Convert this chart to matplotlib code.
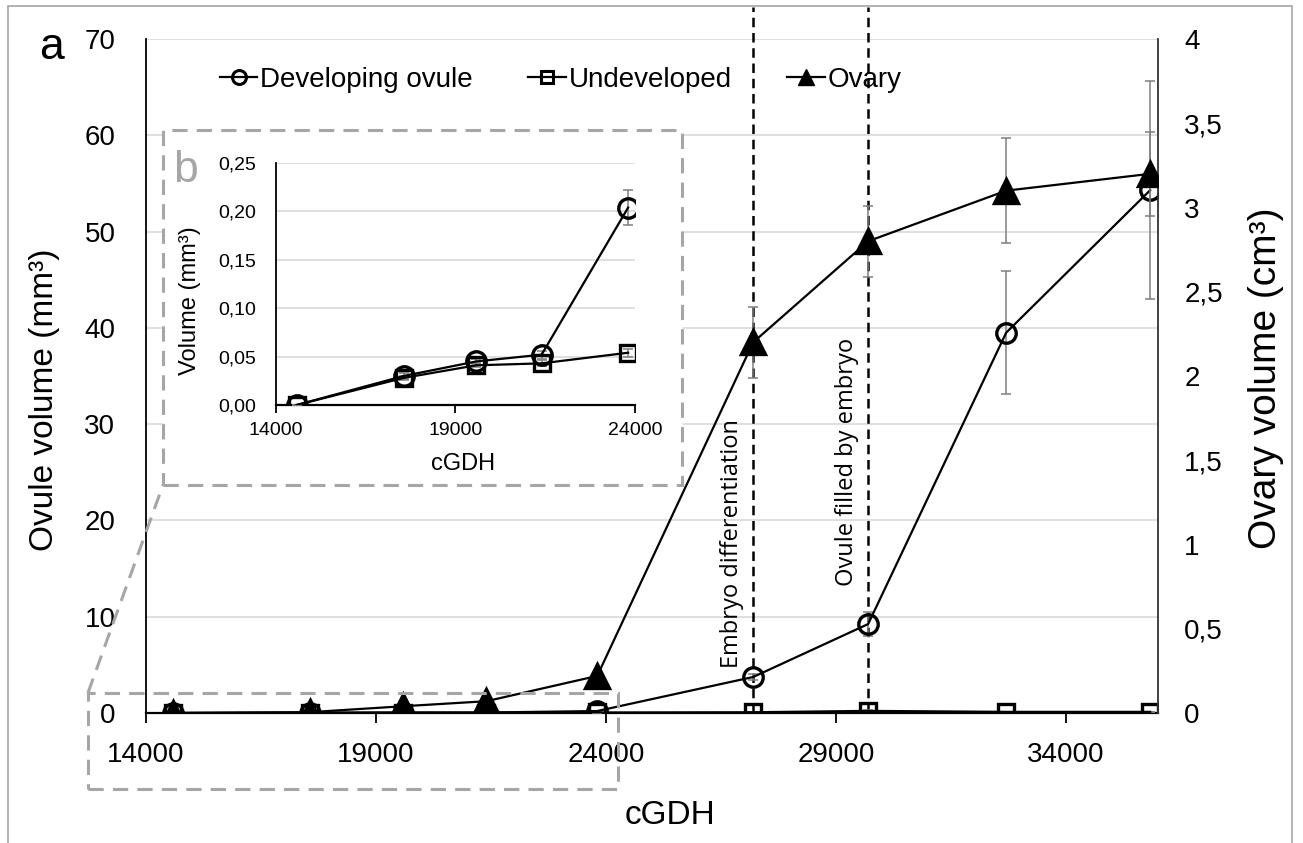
import matplotlib
matplotlib.use("Agg")
import matplotlib.pyplot as plt
from matplotlib.lines import Line2D
from matplotlib.patches import Rectangle
from matplotlib.ticker import FuncFormatter, MultipleLocator

plt.rcParams["font.family"] = ["Liberation Sans", "DejaVu Sans"]

# values
cgdh = [14580, 17560, 19580, 21400, 23810, 27200, 29700, 32700, 35830]
developing = [0.0, 0.030, 0.045, 0.052, 0.204, 3.74, 9.24, 39.5, 54.3]
developing_err = [0.0, 0.003, 0.003, 0.004, 0.018, 0.3, 1.2, 6.4, 11.3]
undeveloped = [0.0, 0.028, 0.041, 0.043, 0.054, 0.08, 0.22, 0.12, 0.12]
undeveloped_err = [0.0, 0.002, 0.002, 0.003, 0.004, 0.02, 0.05, 0.03, 0.03]
ovary = [0.0, 0.005, 0.04, 0.07, 0.22, 2.20, 2.80, 3.10, 3.20]
ovary_err = [0.0, 0.002, 0.005, 0.01, 0.02, 0.21, 0.21, 0.31, 0.25]
n_inset = 5

event_cgdh = [27200, 29700]
event_labels = ["Embryo differentiation", "Ovule filled by embryo"]
event_label_bottom = [4.7, 13.2]

ERR = "#7f7f7f"
DASH_GREY = "#a6a6a6"
GRID = "#d9d9d9"


def comma(fmt):
    return FuncFormatter(lambda v, _: format(v, fmt).replace(".", ","))


def draw_series(ax, x, y, err, marker, ms, filled=False):
    ax.errorbar(x, y, yerr=err, fmt="none", ecolor=ERR, elinewidth=1.1,
                capsize=3.5, capthick=1.1, zorder=3)
    ax.plot(x, y, color="black", lw=1.6, marker=marker, ms=ms, mew=2.4,
            mfc="black" if filled else "none", mec="black", zorder=4)


fig = plt.figure(figsize=(13.03, 8.43), dpi=100)
ax = fig.add_axes([0.112, 0.1542, 0.7767, 0.7995])
ax2 = ax.twinx()

draw_series(ax, cgdh, developing, developing_err, "o", 14)
draw_series(ax, cgdh, undeveloped, undeveloped_err, "s", 12)
draw_series(ax2, cgdh, ovary, ovary_err, "^", 17, filled=True)

ax.set_xlim(14000, 36000)
ax.set_ylim(0, 70)
ax2.set_ylim(0, 4)
ax.set_xticks(range(14000, 36000, 5000))
ax.yaxis.set_major_locator(MultipleLocator(10))
ax2.yaxis.set_major_locator(MultipleLocator(0.5))
ax2.yaxis.set_major_formatter(comma("g"))
ax.grid(axis="y", color=GRID, lw=1.2)
ax.set_axisbelow(True)

for a in (ax, ax2):
    for side in ("top", "left", "right"):
        a.spines[side].set_visible(False)
ax.spines["left"].set_visible(True)
ax.spines["left"].set_linewidth(1.3)
ax2.spines["right"].set_visible(True)
ax2.spines["right"].set_linewidth(1.3)
ax2.spines["right"].set_color("#333333")
ax.spines["bottom"].set_linewidth(1.6)
ax2.spines["bottom"].set_visible(False)

ax.tick_params(axis="x", direction="out", length=7, width=1.3, pad=14,
               labelsize=20)
ax.tick_params(axis="y", length=0, pad=22, labelsize=20)
ax2.tick_params(axis="y", length=0, pad=19, labelsize=20)

for x, label, bottom in zip(event_cgdh, event_labels, event_label_bottom):
    ax.axvline(x, ymin=0, ymax=1.0475, color="black", lw=1.8,
               linestyle=(0, (3.8, 2.3)), clip_on=False, zorder=2)
    ax.annotate(label, xy=(x, bottom), xytext=(-15, 0),
                textcoords="offset points", rotation=90, ha="center",
                va="bottom", fontsize=17, family=["Open Sans", "DejaVu Sans"])

fig.text(0.0345, 0.5255, "Ovule volume (mm³)", rotation=90, ha="center",
         va="center", fontsize=24)
fig.text(0.9716, 0.5516, "Ovary volume (cm³)", rotation=90, ha="center",
         va="center", fontsize=28)
fig.text(0.514, 0.0332, "cGDH", ha="center", va="center", fontsize=24)
fig.text(0.0399, 0.944, "a", ha="center", va="center", fontsize=32)

handles = [
    Line2D([], [], color="black", lw=1.6, marker="o", ms=10, mew=2.2, mfc="none"),
    Line2D([], [], color="black", lw=1.6, marker="s", ms=9, mew=2.2, mfc="none"),
    Line2D([], [], color="black", lw=1.6, marker="^", ms=12, mfc="black"),
]
ax2.legend(handles, ["Developing ovule", "Undeveloped", "Ovary"], ncol=3,
           loc="center left", bbox_to_anchor=(0.1688, 0.905),
           bbox_transform=fig.transFigure, frameon=False, fontsize=20,
           handlelength=1.35, handletextpad=0.1, columnspacing=2.0,
           borderpad=0, borderaxespad=0)

# figure frame, zoom window, connector and inset box
fig.patches.append(Rectangle((0.0061, -0.01), 0.9855, 1.0029, transform=fig.transFigure,
                             fill=False, edgecolor=DASH_GREY, lw=1.2, zorder=1))
fig.patches.append(Rectangle((0.0675, 0.064), 0.4068, 0.114, transform=fig.transFigure,
                             fill=False, edgecolor=DASH_GREY, lw=2.2,
                             linestyle=(0, (5, 3)), zorder=2))
fig.lines.append(Line2D([0.0675, 0.1251], [0.178, 0.4247], transform=fig.transFigure,
                        color=DASH_GREY, lw=2.2, linestyle=(0, (5, 3)), zorder=2))
fig.patches.append(Rectangle((0.1251, 0.4247), 0.3983, 0.4211, transform=fig.transFigure,
                             facecolor="white", edgecolor=DASH_GREY, lw=2.2,
                             linestyle=(0, (5, 3)), zorder=2))

inset = fig.add_axes([0.2118, 0.5196, 0.2755, 0.287], zorder=3)
inset.set_facecolor("none")
draw_series(inset, cgdh[:n_inset], developing[:n_inset], developing_err[:n_inset], "o", 14)
draw_series(inset, cgdh[:n_inset], undeveloped[:n_inset], undeveloped_err[:n_inset], "s", 12)
inset.set_xlim(14000, 24000)
inset.set_ylim(0, 0.25)
inset.set_xticks([14000, 19000, 24000])
inset.yaxis.set_major_locator(MultipleLocator(0.05))
inset.yaxis.set_major_formatter(comma(".2f"))
inset.grid(axis="y", color=GRID, lw=1.2)
inset.set_axisbelow(True)
for side in ("top", "right"):
    inset.spines[side].set_visible(False)
inset.spines["left"].set_linewidth(1.3)
inset.spines["bottom"].set_linewidth(1.6)
inset.tick_params(axis="x", direction="out", length=6, width=1.3, pad=6.5,
                  labelsize=14)
inset.tick_params(axis="y", length=0, pad=14, labelsize=14)

fig.text(0.1458, 0.643, "Volume (mm³)", rotation=90, ha="center", va="center",
         fontsize=17, zorder=4)
fig.text(0.3553, 0.4496, "cGDH", ha="center", va="center", fontsize=17, zorder=4)
fig.text(0.142, 0.798, "b", ha="center", va="center", fontsize=32,
         color=DASH_GREY, zorder=4)

fig.savefig("out.png", dpi=100)
